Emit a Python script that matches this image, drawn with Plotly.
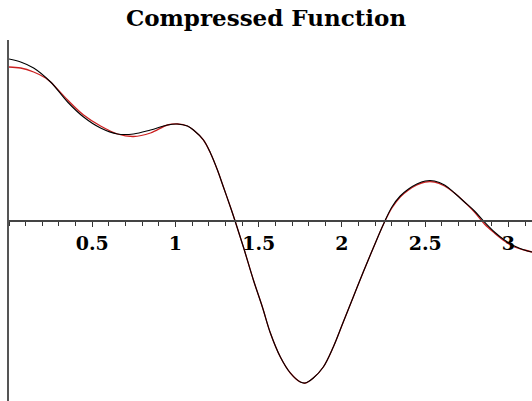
import plotly.graph_objects as go
import math

# Sample points of the original signal (black) and its compressed approximation (red)
x_orig = [0.00, 0.07, 0.148, 0.25, 0.352, 0.448, 0.55, 0.652, 0.748, 0.85, 0.952, 1.012,
          1.072, 1.108, 1.168, 1.21, 1.252, 1.288, 1.33, 1.36, 1.408, 1.468, 1.522, 1.57,
          1.63, 1.69, 1.75, 1.78, 1.828, 1.888, 1.948, 2.008, 2.068, 2.128, 2.188, 2.25,
          2.30, 2.35, 2.40, 2.45, 2.50, 2.556, 2.616, 2.676, 2.736, 2.796, 2.856, 2.916,
          2.976, 3.036, 3.096, 3.1416]
y_orig = [1.62, 1.59, 1.53, 1.39, 1.19, 1.04, 0.93, 0.87, 0.87, 0.91, 0.96, 0.97,
          0.95, 0.91, 0.81, 0.68, 0.51, 0.34, 0.14, -0.01, -0.26, -0.59, -0.86, -1.12,
          -1.36, -1.52, -1.61, -1.62, -1.57, -1.46, -1.26, -1.01, -0.76, -0.51, -0.27, -0.03,
          0.14, 0.25, 0.32, 0.37, 0.40, 0.40, 0.36, 0.28, 0.19, 0.10, -0.01, -0.11,
          -0.19, -0.25, -0.29, -0.31]

x_comp = [0.00, 0.07, 0.148, 0.22, 0.25, 0.352, 0.448, 0.55, 0.652, 0.748, 0.85, 0.952, 1.012,
          1.072, 1.108, 1.168, 1.21, 1.252, 1.288, 1.33, 1.36, 1.408, 1.468, 1.522, 1.57,
          1.63, 1.69, 1.75, 1.78, 1.828, 1.888, 1.948, 2.008, 2.068, 2.128, 2.188, 2.25,
          2.30, 2.35, 2.40, 2.45, 2.50, 2.556, 2.616, 2.676, 2.736, 2.796, 2.856, 2.916,
          2.976, 3.036, 3.096, 3.1416]
y_comp = [1.54, 1.53, 1.49, 1.43, 1.39, 1.21, 1.06, 0.95, 0.87, 0.845, 0.88, 0.96, 0.97,
          0.95, 0.91, 0.81, 0.68, 0.51, 0.34, 0.14, -0.01, -0.26, -0.59, -0.86, -1.12,
          -1.36, -1.52, -1.61, -1.62, -1.57, -1.46, -1.26, -1.01, -0.76, -0.51, -0.27, -0.03,
          0.13, 0.24, 0.31, 0.36, 0.39, 0.39, 0.35, 0.28, 0.19, 0.09, -0.03, -0.12,
          -0.20, -0.26, -0.29, -0.31]

tick_vals = [0.5, 1.0, 1.5, 2.0, 2.5, 3.0]
tick_text = ["0.5", "1", "1.5", "2", "2.5", "3"]

y_lo, y_hi = -1.80, 1.81
axis_pos = (0 - y_lo) / (y_hi - y_lo)

fig = go.Figure()
fig.add_trace(go.Scatter(x=x_comp, y=y_comp, mode="lines", line_shape="spline",
                         line=dict(color="#cc2020", width=1.3), showlegend=False))
fig.add_trace(go.Scatter(x=x_orig, y=y_orig, mode="lines", line_shape="spline",
                         line=dict(color="#000000", width=1.1), showlegend=False))

fig.update_layout(
    width=532, height=401,
    margin=dict(l=9, r=0, t=40, b=0),
    paper_bgcolor="white", plot_bgcolor="white",
    title=dict(text="<b>Compressed Function</b>", x=0.5, xanchor="center",
               y=0.955, yanchor="middle",
               font=dict(family="DejaVu Serif", size=23, color="black")),
    xaxis=dict(range=[0, math.pi], anchor="free", position=axis_pos,
               showgrid=False, zeroline=False, showline=True,
               linecolor="#444444", linewidth=1.5,
               ticks="outside", ticklen=5, tickwidth=1.2, tickcolor="#333333",
               tickvals=tick_vals, ticktext=["<b>%s</b>" % t for t in tick_text],
               tickfont=dict(family="DejaVu Serif", size=19, color="black"),
               minor=dict(dtick=0.1, tick0=0, ticks="outside", ticklen=4,
                          tickwidth=1.2, tickcolor="#333333", showgrid=False)),
    yaxis=dict(range=[y_lo, y_hi], showgrid=False, zeroline=False,
               showline=True, linecolor="#555555", linewidth=2,
               showticklabels=False, ticks=""),
)

fig.write_html("out.html")
